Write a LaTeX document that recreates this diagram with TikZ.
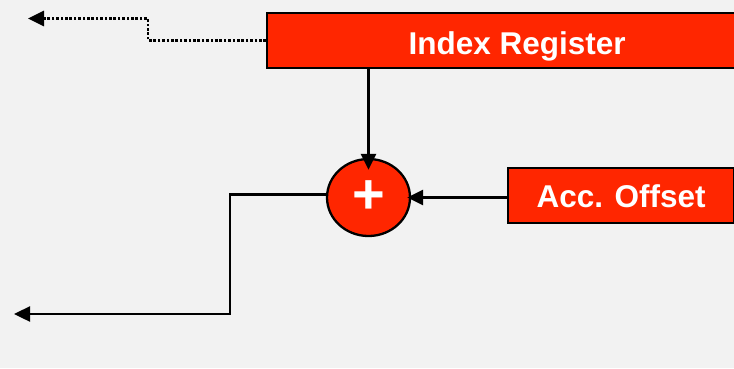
\documentclass[tikz,border=0pt]{standalone}
\usepackage{fontspec}
\setmainfont{Liberation Sans}
\usetikzlibrary{arrows.meta,shapes.geometric}
\definecolor{bg}{HTML}{F2F2F2}
\definecolor{boxred}{HTML}{FF2600}
\begin{document}
\begin{tikzpicture}[x=1pt,y=-1pt,
  redbox/.style={draw=black, fill=boxred, line width=2.3pt, text=white,
    font=\bfseries\fontsize{31.5}{36}\selectfont, inner sep=0pt, minimum height=55pt,
    text depth=0pt},
  adderstyle/.style={ellipse, draw=black, fill=boxred, line width=2.3pt,
    minimum width=83pt, minimum height=77pt, inner sep=0pt},
  conn/.style={line width=2.4pt, -{Triangle[length=16pt,width=15pt]}},
  dotconn/.style={conn, line width=2.7pt, dash pattern=on 2.6pt off 1.8pt}]
\useasboundingbox (0,0) rectangle (734,368);
\clip (0,0) rectangle (734,368);
\fill[bg] (0,0) rectangle (734,368);
% boxes
\node[redbox, minimum width=500pt, text height=28.6pt, anchor=north west] (ir) at (266,11.5) {Index Register};
\node[redbox, minimum width=226pt, text height=24pt, anchor=north west] (acc) at (507,166.5) {Acc. Offset};
% adder
\node[adderstyle] (adder) at (368.5,197.5) {};
\node[text=white, font=\bfseries\fontsize{56}{56}\selectfont, inner sep=0pt] (plus) at (368.5,197.5) {+};
% coordinates for free ends
\coordinate (dbend) at (148,18.5);
\coordinate (dotend) at (28,18.5);
\coordinate (obend) at (230,314);
\coordinate (outend) at (14,314);
% connectors
\draw[conn, shorten >=-12pt] (adder |- ir.south) -- (adder.north);
\draw[conn, shorten >=-4pt] (acc.west |- adder.east) -- (adder.east);
\draw[conn] ([yshift=3pt]adder.west) -| (obend) -- (outend);
\draw[dotconn] (ir.west) -| (dbend) -- (dotend);
\end{tikzpicture}
\end{document}
